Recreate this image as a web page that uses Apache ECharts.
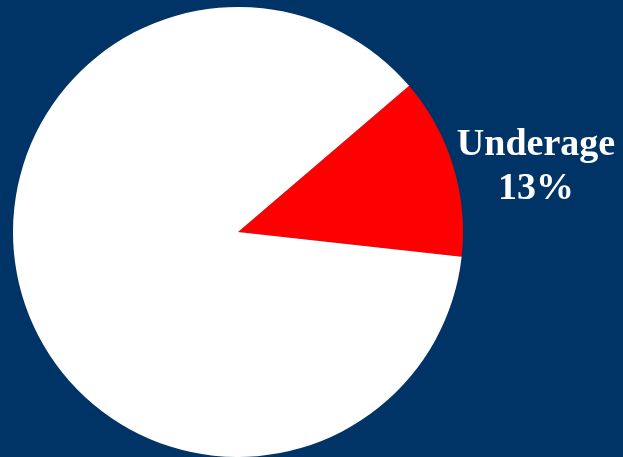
<!DOCTYPE html>
<html>
<head>
<meta charset="utf-8">
<script src="https://cdn.jsdelivr.net/npm/echarts@6/dist/echarts.min.js"></script>
<style>
  html, body { margin: 0; padding: 0; background: #003366; }
  #chart { width: 623px; height: 457px; }
</style>
</head>
<body>
<div id="chart"></div>
<script>
var categories = ['Underage', 'Other'];
var values = [13, 87];
var sliceColors = ['#ff0000', '#ffffff'];

var pieData = categories.map(function (name, i) {
    var item = {
        name: name,
        value: values[i],
        itemStyle: { color: sliceColors[i] }
    };
    if (i > 0) {
        item.label = { show: false };
    }
    return item;
});

var options = {
    backgroundColor: '#003366',
    animation: false,
    series: [
        {
            type: 'pie',
            center: [238, 232],
            radius: 225,
            startAngle: 40.5,
            clockwise: true,
            data: pieData,
            labelLine: { show: false },
            label: {
                show: true,
                position: 'outside',
                formatter: '{b}\n{d}%',
                color: '#ffffff',
                fontFamily: 'Liberation Serif',
                fontWeight: 'bold',
                fontSize: 38,
                lineHeight: 44,
                align: 'center',
                overflow: 'none',
                width: 200
            },
            labelLayout: function () {
                return { x: 536, y: 167, align: 'center', verticalAlign: 'middle' };
            }
        }
    ]
};

var myChart = echarts.init(document.getElementById('chart'));
myChart.setOption(options);
</script>
</body>
</html>
